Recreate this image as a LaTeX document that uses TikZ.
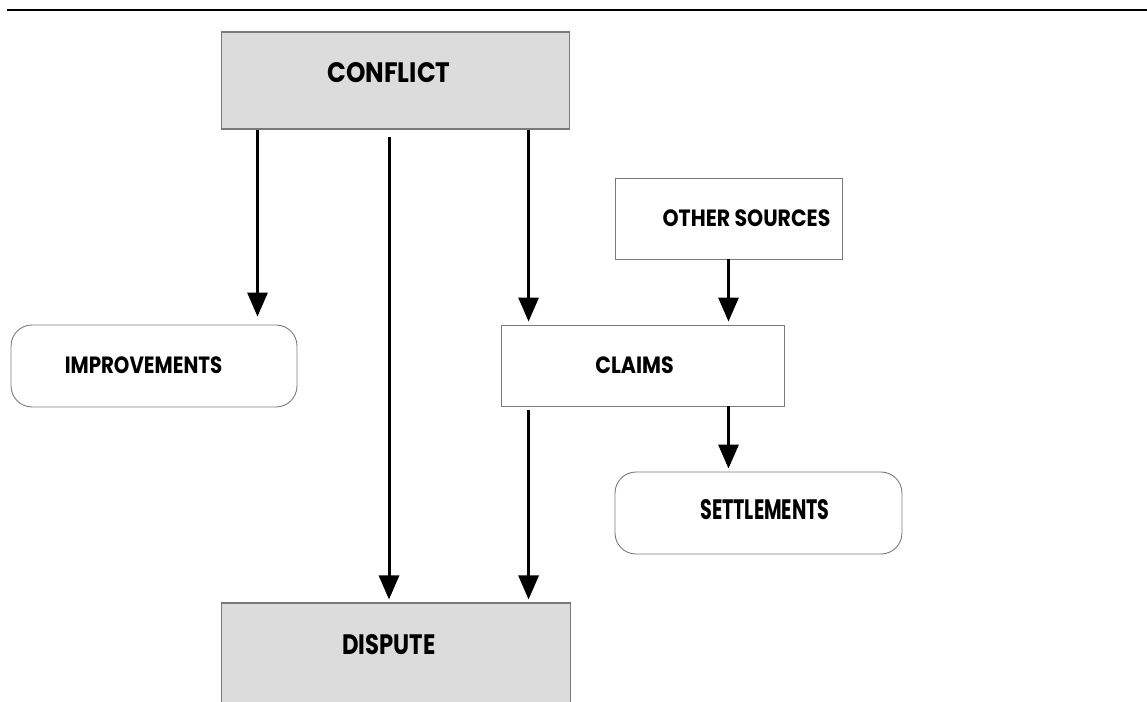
\documentclass[tikz,border=0pt]{standalone}
\usepackage{fontspec}
\setmainfont{Poppins}
\usepackage{graphicx}
\usepackage{tikz}
\usetikzlibrary{positioning,calc,arrows.meta}
\definecolor{boxgrey}{HTML}{DCDCDC}
\definecolor{edgegrey}{HTML}{7A7A7A}
\newcommand{\narrowed}[2]{\scalebox{#1}[1]{#2}}

\begin{document}
\begin{tikzpicture}[x=0.02cm, y=-0.02cm,
    greybox/.style={draw=edgegrey, line width=0.6pt, fill=boxgrey, inner sep=0pt},
    plainbox/.style={draw=edgegrey, line width=0.5pt, fill=white, inner sep=0pt},
    roundbox/.style={plainbox, rounded corners=0.42cm},
    biglbl/.style={font=\bfseries\fontsize{16}{18}\selectfont},
    smalllbl/.style={font=\bfseries\fontsize{13.4}{15}\selectfont},
    flow/.style={line width=0.06cm, -{Triangle[length=0.48cm, width=0.4cm]}, shorten >=0.06cm}]
    \clip (0,0) rectangle (1147,702);
    \draw [line width=0.055cm] (7,10) -- (1147,10);

    \node [greybox, minimum width=6.98cm, minimum height=1.94cm,
           label={[biglbl, xshift=-0.13cm, yshift=0.15cm]center:\narrowed{0.88}{CONFLICT}}] at (395.5,80.5) (conflict) {};
    \node [greybox, minimum width=7cm, minimum height=2.34cm,
           label={[biglbl, xshift=-0.14cm, yshift=0.33cm]center:\narrowed{0.81}{DISPUTE}}] at (396,661.5) (dispute) {};
    \node [roundbox, minimum width=5.72cm, minimum height=1.64cm,
           label={[smalllbl, xshift=-0.21cm, yshift=0.02cm]center:\narrowed{0.84}{IMPROVEMENTS}}] at (154,366) (improve) {};
    \node [plainbox, minimum width=4.54cm, minimum height=1.62cm,
           label={[smalllbl, xshift=0.36cm]center:\narrowed{0.87}{OTHER SOURCES}}] at (728.5,218.5) (other) {};
    \node [plainbox, minimum width=5.66cm, minimum height=1.62cm,
           label={[smalllbl, xshift=-0.16cm]center:\narrowed{0.875}{CLAIMS}}] at (642.5,365.5) (claims) {};
    \node [roundbox, minimum width=5.74cm, minimum height=1.64cm,
           label={[biglbl, xshift=0.13cm, yshift=0.06cm]center:\narrowed{0.68}{SETTLEMENTS}}] at (758.5,513) (settle) {};

    \draw [flow, shorten >=0.16cm] ([xshift=0.74cm]conflict.south west) -- ([xshift=0.74cm]conflict.south west |- improve.north);
    \draw [flow, shorten <=0.14cm] ([xshift=-0.13cm]conflict.south) -- ([xshift=-0.13cm]conflict.south |- dispute.north);
    \draw [flow] ([xshift=0.56cm]claims.north west |- conflict.south) -- ([xshift=0.56cm]claims.north west);
    \draw [flow] (other.south) -- (other.south |- claims.north);
    \draw [flow, shorten <=0.08cm] ([xshift=0.56cm]claims.south west) -- ([xshift=0.56cm]claims.south west |- dispute.north);
    \draw [flow] (claims.south -| other.south) -- (settle.north -| other.south);
\end{tikzpicture}
\end{document}
